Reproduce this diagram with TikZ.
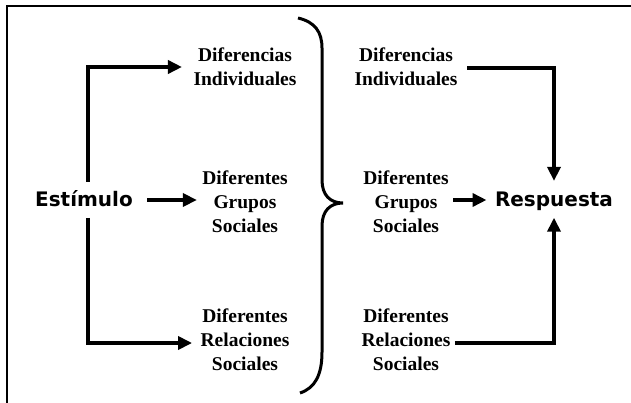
\documentclass[tikz,border=0pt]{standalone}
\usepackage{fontspec}
\setmainfont{Liberation Serif}
\newfontfamily\titfont{DejaVu Sans}
\usetikzlibrary{arrows.meta}

\begin{document}
\begin{tikzpicture}[x=1pt,y=-1pt,
  box/.style={align=center,font=\fontsize{19.5}{24}\selectfont\bfseries},
  big/.style={font=\titfont\fontsize{20}{24}\selectfont\bfseries,anchor=base},
  arr/.style={line width=3.5pt,-{Triangle[length=14pt,width=13pt]}}]
\useasboundingbox (0,0) rectangle (631,403);
% frame
\draw[line width=2.5pt] (7,403) -- (7,6) -- (631,6);
% end points
\node[big] (est) at (84,207) {Estímulo};
\node[big] (resp) at (554,207) {Respuesta};
% left column
\node[box] (di1) at (245,67) {Diferencias\\Individuales};
\node[box] (gs1) at (245,202) {Diferentes\\Grupos\\Sociales};
\node[box] (rs1) at (245,340) {Diferentes\\Relaciones\\Sociales};
% right column
\node[box] (di2) at (406,67) {Diferencias\\Individuales};
\node[box] (gs2) at (406,202) {Diferentes\\Grupos\\Sociales};
\node[box] (rs2) at (406,340) {Diferentes\\Relaciones\\Sociales};
% brace
\draw[line width=3pt] (298,18) .. controls (315,22) and (322,32) .. (322,48)
  -- (322,180) .. controls (322,195) and (330,203) .. (343,203)
  .. controls (330,203) and (322,211) .. (322,226)
  -- (322,352) .. controls (322,375) and (315,388) .. (300,393);
% arrows
\coordinate (a1) at (88,182);
\coordinate (a2) at (88,218);
\draw[arr,shorten >=8pt] (a1) |- (di1.west);
\draw[arr,shorten >=5pt] (a2) |- ([yshift=-3pt]rs1.west);
\draw[arr,shorten <=11pt,shorten >=2pt] (est.east |- 0,200) -- (gs1.west |- 0,200);
\draw[arr,shorten <=6pt,shorten >=8pt] ([yshift=-1pt]di2.east) -| (resp.north);
\draw[arr,shorten <=1pt,shorten >=5pt] (gs2.east |- 0,200) -- (resp.west |- 0,200);
\draw[arr,shorten <=1pt,shorten >=3pt] ([yshift=-3pt]rs2.east) -| (resp.south);
\end{tikzpicture}
\end{document}
